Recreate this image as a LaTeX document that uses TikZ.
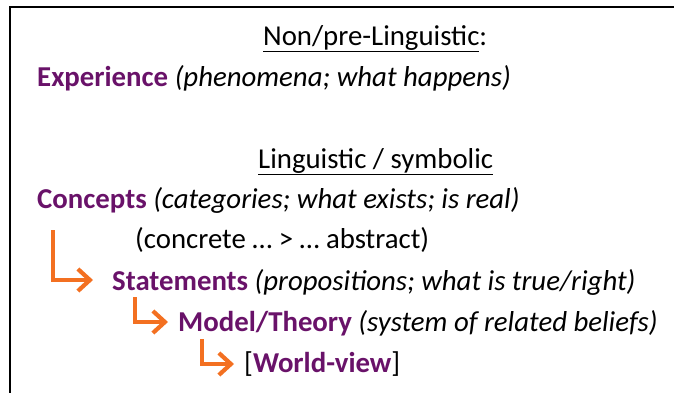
\documentclass[tikz,border=0pt]{standalone}
\usepackage{fontspec}
\setmainfont{Carlito}
\usetikzlibrary{arrows.meta}
\definecolor{plum}{RGB}{105,18,105}
\definecolor{arrorange}{RGB}{243,112,33}
\tikzset{
  txt/.style={anchor=base west, inner sep=0pt, font=\fontsize{28.8}{32}\selectfont},
  arr/.style={draw=arrorange, line width=4.2pt, -{Straight Barb[length=12pt,width=22pt]}},
  frame/.style={draw=black, line width=1.3pt}
}
\begin{document}
\begin{tikzpicture}[x=1pt,y=-1pt]
\useasboundingbox (0,0) rectangle (674,392);
\begin{scope}
\clip (0,0) rectangle (674,392);
\draw[frame] (10,400) -- (10,7) -- (674,7);
\end{scope}
\node[txt] (nonling) at (263,45) {\underline{Non/pre-Linguistic}:};
\node[txt] (exp) at (37,86) {\textcolor{plum}{\bfseries Experience} \textit{(phenomena; what happens)}};
\node[txt] (ling) at (258,168) {\underline{Linguistic / symbolic}};
\node[txt] (con) at (37,208) {\textcolor{plum}{\bfseries Concepts} \textit{(categories; what exists; is real)}};
\node[txt] (conc) at (135,248) {(concrete … > … abstract)};
\node[txt] (st) at (112,290) {\textcolor{plum}{\bfseries Statements} \textit{(propositions; what is true/right)}};
\node[txt] (mt) at (178,331) {\textcolor{plum}{\bfseries Model/Theory} \textit{(system of related beliefs)}};
\node[txt] (wv) at (244,372) {[\textcolor{plum}{\bfseries World-view}]};
\coordinate (a1s) at (53,230);
\coordinate (a1e) at (93,280);
\coordinate (a2s) at (135,297);
\coordinate (a2e) at (168,322);
\coordinate (a3s) at (202,339);
\coordinate (a3e) at (234,364);
\draw[arr] (a1s) |- (a1e);
\draw[arr] (a2s) |- (a2e);
\draw[arr] (a3s) |- (a3e);
\end{tikzpicture}
\end{document}
